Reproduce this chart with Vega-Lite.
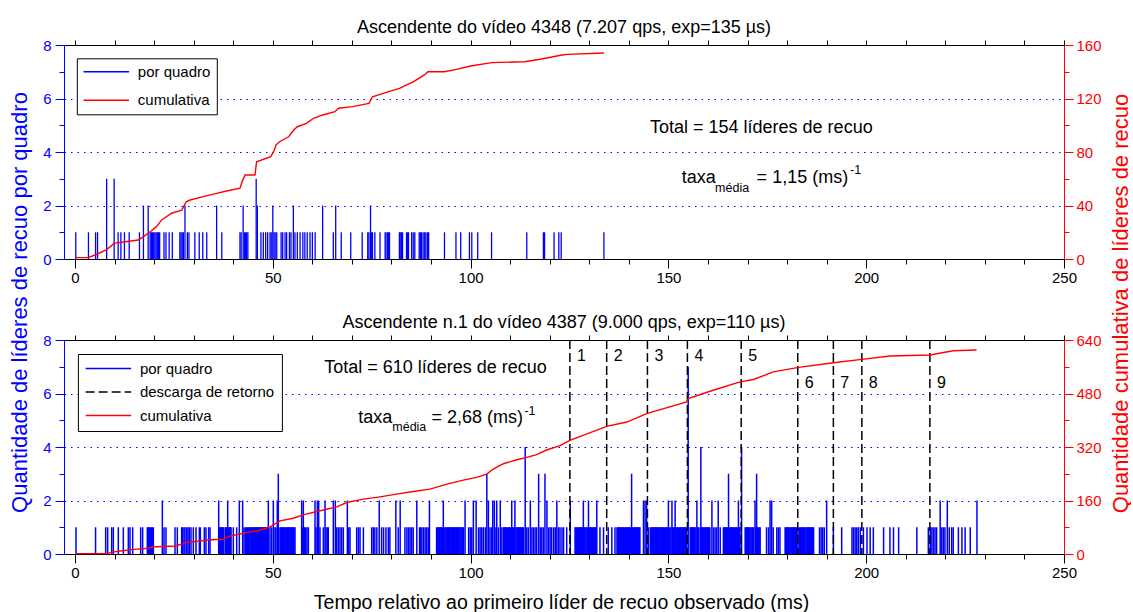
{
"$schema":"https://vega.github.io/schema/vega-lite/v6.json",
"background":"white",
"padding":{"left":7,"top":19,"right":0,"bottom":0},
"config":{
 "view":{"stroke":null},
 "font":"Liberation Sans",
 "axis":{"labelFont":"Liberation Sans","titleFont":"Liberation Sans","titleFontWeight":"normal","zindex":1,"tickWidth":1,"domainWidth":1},
 "legend":{"labelFont":"Liberation Sans"},
 "title":{"font":"Liberation Sans","fontWeight":"normal"}
},
"datasets":{
 "top":[{"t":0.2,"n":1},{"t":3.4,"n":1},{"t":5.2,"n":1},{"t":5.7,"n":1},{"t":8.0,"n":3},{"t":9.9,"n":3},{"t":10.9,"n":1},{"t":11.6,"n":1},{"t":12.5,"n":1},{"t":13.7,"n":1},{"t":16.3,"n":1},{"t":17.3,"n":2},{"t":18.5,"n":2},{"t":19.0,"n":1},{"t":19.3,"n":1},{"t":19.6,"n":1},{"t":19.9,"n":1},{"t":20.2,"n":1},{"t":20.5,"n":1},{"t":20.8,"n":1},{"t":21.1,"n":1},{"t":21.4,"n":1},{"t":22.5,"n":1},{"t":23.0,"n":1},{"t":23.8,"n":1},{"t":24.6,"n":1},{"t":26.5,"n":1},{"t":26.8,"n":1},{"t":27.1,"n":1},{"t":27.4,"n":1},{"t":27.8,"n":2},{"t":28.4,"n":1},{"t":28.8,"n":1},{"t":30.3,"n":1},{"t":31.4,"n":1},{"t":32.3,"n":1},{"t":33.3,"n":1},{"t":35.8,"n":2},{"t":37.1,"n":1},{"t":41.7,"n":1},{"t":42.0,"n":1},{"t":42.5,"n":2},{"t":42.8,"n":1},{"t":43.1,"n":1},{"t":43.4,"n":1},{"t":43.7,"n":1},{"t":45.8,"n":3},{"t":46.1,"n":2},{"t":47.0,"n":1},{"t":47.6,"n":1},{"t":48.2,"n":1},{"t":48.7,"n":1},{"t":49.3,"n":1},{"t":49.6,"n":1},{"t":50.0,"n":2},{"t":50.3,"n":1},{"t":50.6,"n":1},{"t":51.0,"n":1},{"t":52.1,"n":1},{"t":52.5,"n":1},{"t":53.1,"n":1},{"t":53.5,"n":1},{"t":54.2,"n":1},{"t":54.6,"n":1},{"t":55.2,"n":2},{"t":55.6,"n":1},{"t":56.2,"n":1},{"t":56.9,"n":1},{"t":57.6,"n":1},{"t":58.1,"n":1},{"t":58.7,"n":1},{"t":59.4,"n":1},{"t":60.0,"n":1},{"t":60.7,"n":1},{"t":62.6,"n":2},{"t":65.3,"n":1},{"t":65.9,"n":2},{"t":67.3,"n":1},{"t":69.7,"n":1},{"t":72.6,"n":1},{"t":74.0,"n":1},{"t":74.3,"n":1},{"t":74.7,"n":2},{"t":75.0,"n":1},{"t":75.2,"n":1},{"t":75.8,"n":1},{"t":77.1,"n":1},{"t":78.4,"n":1},{"t":78.6,"n":1},{"t":79.0,"n":1},{"t":79.2,"n":1},{"t":79.5,"n":1},{"t":82.0,"n":1},{"t":82.2,"n":1},{"t":82.5,"n":1},{"t":82.8,"n":1},{"t":83.8,"n":1},{"t":84.1,"n":1},{"t":84.3,"n":1},{"t":85.1,"n":1},{"t":85.5,"n":1},{"t":85.9,"n":1},{"t":87.0,"n":1},{"t":87.3,"n":1},{"t":87.6,"n":1},{"t":88.0,"n":1},{"t":88.4,"n":1},{"t":88.7,"n":1},{"t":89.1,"n":1},{"t":89.4,"n":1},{"t":93.4,"n":1},{"t":96.3,"n":1},{"t":97.5,"n":1},{"t":99.7,"n":1},{"t":100.3,"n":1},{"t":101.8,"n":1},{"t":105.3,"n":1},{"t":114.2,"n":1},{"t":118.4,"n":1},{"t":118.7,"n":1},{"t":121.1,"n":1},{"t":122.3,"n":1},{"t":122.9,"n":1},{"t":133.7,"n":1}],
 "topCum":[{"t":0.2,"c":1},{"t":3.3,"c":1},{"t":5.1,"c":3},{"t":8,"c":7},{"t":9.9,"c":11.7},{"t":10.9,"c":12.2},{"t":16,"c":14.2},{"t":17.3,"c":16.7},{"t":19,"c":20.4},{"t":20.6,"c":24.2},{"t":21.9,"c":29.2},{"t":24.4,"c":34.2},{"t":27,"c":36.6},{"t":28.1,"c":42.8},{"t":29.1,"c":44.1},{"t":32.4,"c":46.6},{"t":35.8,"c":49.1},{"t":38.3,"c":50.8},{"t":41.7,"c":52.9},{"t":42.4,"c":59},{"t":43,"c":62.8},{"t":45.5,"c":62.8},{"t":45.9,"c":72.7},{"t":49.5,"c":76.5},{"t":50.4,"c":81.5},{"t":50.8,"c":85.2},{"t":51.7,"c":87.7},{"t":54,"c":91.4},{"t":55.3,"c":96.4},{"t":56.2,"c":98.9},{"t":58.5,"c":101.4},{"t":60.3,"c":105.2},{"t":62.6,"c":107.7},{"t":65.7,"c":110.1},{"t":66.6,"c":112.7},{"t":70.2,"c":113.9},{"t":74.3,"c":116.4},{"t":75.2,"c":121.3},{"t":79.3,"c":125.1},{"t":82,"c":127.6},{"t":85.6,"c":132.6},{"t":88.3,"c":137.6},{"t":89.2,"c":140},{"t":93.3,"c":140},{"t":96.4,"c":141.8},{"t":100,"c":144.3},{"t":105.4,"c":146.8},{"t":113.6,"c":147.5},{"t":117.6,"c":149.3},{"t":123.1,"c":152.5},{"t":124.5,"c":153},{"t":133.7,"c":154}],
 "topAnn":[{"k":"main","t":145.35,"v":4.886,"s":"Total = 154 líderes de recuo"},{"k":"main","t":153.4,"v":3.017,"s":"taxa"},{"k":"main","t":172.3,"v":3.017,"s":"= 1,15 (ms)"},{"k":"small","t":161.8,"v":2.643,"s":"média"},{"k":"small","t":195.9,"v":3.32,"s":"-1"}],
 "bot":[{"t":0.25,"n":1},{"t":5.2,"n":1},{"t":7.75,"n":1},{"t":8.26,"n":1},{"t":9.27,"n":1},{"t":9.69,"n":1},{"t":10.95,"n":1},{"t":12.22,"n":1},{"t":13.48,"n":1},{"t":13.9,"n":1},{"t":14.58,"n":1},{"t":16.6,"n":1},{"t":17.1,"n":1},{"t":18.28,"n":1},{"t":18.53,"n":1},{"t":18.79,"n":1},{"t":19.04,"n":1},{"t":19.3,"n":1},{"t":19.55,"n":1},{"t":19.8,"n":1},{"t":22.08,"n":2},{"t":22.5,"n":1},{"t":23.0,"n":1},{"t":25.28,"n":1},{"t":25.87,"n":1},{"t":26.96,"n":1},{"t":27.21,"n":1},{"t":27.55,"n":1},{"t":27.8,"n":1},{"t":28.23,"n":1},{"t":28.57,"n":1},{"t":28.9,"n":1},{"t":29.32,"n":1},{"t":29.91,"n":1},{"t":30.59,"n":1},{"t":31.43,"n":1},{"t":31.68,"n":1},{"t":32.69,"n":1},{"t":33.11,"n":1},{"t":33.79,"n":1},{"t":34.13,"n":1},{"t":36.32,"n":2},{"t":36.66,"n":1},{"t":37.0,"n":1},{"t":37.33,"n":1},{"t":38.0,"n":1},{"t":38.26,"n":1},{"t":38.6,"n":2},{"t":38.93,"n":1},{"t":39.19,"n":1},{"t":39.44,"n":1},{"t":40.02,"n":1},{"t":40.87,"n":1},{"t":41.54,"n":2},{"t":42.38,"n":2},{"t":42.72,"n":1},{"t":43.06,"n":1},{"t":43.39,"n":1},{"t":43.82,"n":1},{"t":44.24,"n":1},{"t":44.66,"n":1},{"t":45.08,"n":1},{"t":45.42,"n":1},{"t":45.75,"n":1},{"t":46.09,"n":1},{"t":46.43,"n":1},{"t":46.76,"n":1},{"t":47.1,"n":1},{"t":47.44,"n":1},{"t":47.77,"n":1},{"t":48.11,"n":1},{"t":48.45,"n":1},{"t":48.87,"n":2},{"t":49.29,"n":1},{"t":49.71,"n":1},{"t":50.13,"n":2},{"t":50.55,"n":1},{"t":50.8,"n":1},{"t":51.14,"n":2},{"t":51.39,"n":3},{"t":51.81,"n":1},{"t":52.24,"n":1},{"t":52.66,"n":1},{"t":53.08,"n":1},{"t":53.5,"n":1},{"t":53.92,"n":1},{"t":54.34,"n":1},{"t":54.76,"n":1},{"t":55.19,"n":1},{"t":55.61,"n":1},{"t":57.3,"n":2},{"t":57.55,"n":1},{"t":57.72,"n":2},{"t":57.97,"n":1},{"t":58.31,"n":1},{"t":58.65,"n":1},{"t":58.99,"n":1},{"t":60.67,"n":2},{"t":60.92,"n":1},{"t":61.26,"n":2},{"t":61.6,"n":2},{"t":61.93,"n":1},{"t":62.78,"n":1},{"t":63.2,"n":2},{"t":63.45,"n":1},{"t":63.79,"n":1},{"t":64.03,"n":1},{"t":65.3,"n":2},{"t":65.81,"n":2},{"t":66.14,"n":1},{"t":66.56,"n":1},{"t":66.99,"n":1},{"t":67.41,"n":1},{"t":67.83,"n":1},{"t":68.84,"n":2},{"t":69.18,"n":1},{"t":69.52,"n":1},{"t":71.2,"n":1},{"t":71.63,"n":1},{"t":72.05,"n":1},{"t":72.9,"n":1},{"t":75.0,"n":1},{"t":75.4,"n":1},{"t":75.8,"n":1},{"t":76.3,"n":1},{"t":76.9,"n":2},{"t":77.5,"n":1},{"t":78.0,"n":1},{"t":78.6,"n":1},{"t":79.2,"n":1},{"t":79.6,"n":1},{"t":81.1,"n":2},{"t":81.7,"n":1},{"t":82.2,"n":2},{"t":83.4,"n":1},{"t":83.9,"n":1},{"t":84.3,"n":1},{"t":84.7,"n":1},{"t":85.1,"n":1},{"t":85.5,"n":1},{"t":86.4,"n":2},{"t":87.1,"n":1},{"t":87.4,"n":1},{"t":87.7,"n":1},{"t":88.1,"n":1},{"t":88.5,"n":1},{"t":88.9,"n":1},{"t":89.3,"n":1},{"t":89.6,"n":2},{"t":91.4,"n":1},{"t":91.9,"n":1},{"t":92.3,"n":1},{"t":92.7,"n":1},{"t":93.1,"n":2},{"t":93.5,"n":1},{"t":94.0,"n":1},{"t":94.4,"n":1},{"t":94.8,"n":1},{"t":95.2,"n":1},{"t":95.7,"n":1},{"t":96.1,"n":1},{"t":96.5,"n":1},{"t":96.9,"n":1},{"t":97.3,"n":1},{"t":97.8,"n":1},{"t":98.2,"n":1},{"t":98.6,"n":2},{"t":99.5,"n":1},{"t":99.9,"n":1},{"t":100.3,"n":1},{"t":100.7,"n":2},{"t":101.4,"n":2},{"t":102.0,"n":1},{"t":102.4,"n":1},{"t":102.8,"n":1},{"t":103.2,"n":1},{"t":103.7,"n":1},{"t":104.1,"n":3},{"t":104.5,"n":2},{"t":104.9,"n":1},{"t":105.3,"n":1},{"t":105.6,"n":2},{"t":106.0,"n":2},{"t":106.4,"n":1},{"t":106.6,"n":2},{"t":107.0,"n":1},{"t":107.5,"n":2},{"t":107.9,"n":1},{"t":108.3,"n":1},{"t":108.7,"n":1},{"t":109.1,"n":1},{"t":109.6,"n":1},{"t":110.0,"n":1},{"t":110.4,"n":2},{"t":110.8,"n":1},{"t":111.2,"n":2},{"t":111.7,"n":1},{"t":112.1,"n":1},{"t":112.5,"n":1},{"t":112.9,"n":1},{"t":113.4,"n":1},{"t":113.8,"n":4},{"t":114.2,"n":1},{"t":114.6,"n":1},{"t":115.1,"n":2},{"t":115.5,"n":1},{"t":115.9,"n":1},{"t":116.3,"n":1},{"t":116.7,"n":1},{"t":117.2,"n":3},{"t":117.6,"n":1},{"t":118.0,"n":1},{"t":118.4,"n":1},{"t":118.8,"n":3},{"t":119.3,"n":2},{"t":119.7,"n":1},{"t":120.1,"n":1},{"t":120.5,"n":1},{"t":121.0,"n":1},{"t":121.4,"n":1},{"t":121.8,"n":2},{"t":122.2,"n":1},{"t":122.6,"n":1},{"t":123.1,"n":1},{"t":123.5,"n":1},{"t":124.3,"n":1},{"t":125.2,"n":2},{"t":126.4,"n":1},{"t":126.8,"n":1},{"t":127.3,"n":1},{"t":127.7,"n":1},{"t":128.1,"n":1},{"t":128.5,"n":2},{"t":128.9,"n":1},{"t":129.4,"n":1},{"t":129.8,"n":2},{"t":130.2,"n":1},{"t":130.6,"n":1},{"t":131.1,"n":1},{"t":131.5,"n":1},{"t":131.9,"n":2},{"t":132.7,"n":1},{"t":133.6,"n":1},{"t":134.8,"n":1},{"t":135.7,"n":1},{"t":136.5,"n":1},{"t":137.0,"n":1},{"t":137.4,"n":1},{"t":137.8,"n":1},{"t":138.2,"n":1},{"t":138.6,"n":1},{"t":139.1,"n":1},{"t":139.5,"n":1},{"t":139.9,"n":1},{"t":140.3,"n":1},{"t":140.7,"n":3},{"t":141.2,"n":1},{"t":141.6,"n":1},{"t":142.0,"n":1},{"t":142.4,"n":1},{"t":142.8,"n":1},{"t":143.7,"n":2},{"t":144.1,"n":2},{"t":144.5,"n":2},{"t":144.9,"n":1},{"t":145.4,"n":1},{"t":145.8,"n":1},{"t":146.2,"n":1},{"t":146.6,"n":1},{"t":147.0,"n":1},{"t":147.5,"n":1},{"t":147.9,"n":1},{"t":148.3,"n":1},{"t":148.7,"n":1},{"t":149.2,"n":1},{"t":149.6,"n":1},{"t":150.0,"n":2},{"t":150.4,"n":1},{"t":150.9,"n":2},{"t":151.3,"n":1},{"t":151.7,"n":2},{"t":152.1,"n":1},{"t":152.5,"n":1},{"t":153.0,"n":1},{"t":153.4,"n":1},{"t":153.8,"n":1},{"t":154.2,"n":1},{"t":154.6,"n":1},{"t":155.0,"n":7},{"t":155.5,"n":1},{"t":155.9,"n":1},{"t":156.3,"n":1},{"t":156.7,"n":1},{"t":157.2,"n":2},{"t":157.6,"n":1},{"t":158.0,"n":1},{"t":158.2,"n":4},{"t":158.4,"n":1},{"t":158.8,"n":1},{"t":159.3,"n":1},{"t":159.7,"n":1},{"t":160.1,"n":1},{"t":160.5,"n":1},{"t":161.0,"n":2},{"t":161.4,"n":1},{"t":161.8,"n":1},{"t":162.2,"n":1},{"t":162.6,"n":2},{"t":163.1,"n":1},{"t":163.9,"n":1},{"t":164.3,"n":1},{"t":164.7,"n":1},{"t":165.2,"n":3},{"t":165.6,"n":1},{"t":166.0,"n":1},{"t":166.4,"n":1},{"t":166.9,"n":1},{"t":167.3,"n":1},{"t":167.7,"n":2},{"t":168.1,"n":1},{"t":168.5,"n":4},{"t":169.4,"n":1},{"t":169.8,"n":1},{"t":170.2,"n":1},{"t":170.6,"n":1},{"t":171.1,"n":1},{"t":171.5,"n":1},{"t":171.9,"n":2},{"t":172.3,"n":3},{"t":172.7,"n":1},{"t":173.2,"n":1},{"t":174.8,"n":1},{"t":175.3,"n":1},{"t":175.7,"n":2},{"t":176.1,"n":2},{"t":176.5,"n":1},{"t":177.4,"n":1},{"t":177.8,"n":1},{"t":178.2,"n":1},{"t":179.5,"n":1},{"t":179.9,"n":1},{"t":180.3,"n":1},{"t":180.7,"n":1},{"t":181.2,"n":1},{"t":181.6,"n":1},{"t":182.0,"n":1},{"t":182.4,"n":1},{"t":183.1,"n":1},{"t":183.7,"n":1},{"t":184.1,"n":1},{"t":184.5,"n":1},{"t":185.0,"n":1},{"t":185.4,"n":1},{"t":185.8,"n":1},{"t":186.2,"n":1},{"t":186.7,"n":1},{"t":188.2,"n":1},{"t":188.6,"n":1},{"t":189.0,"n":1},{"t":189.4,"n":1},{"t":190.0,"n":2},{"t":191.7,"n":1},{"t":193.8,"n":1},{"t":196.4,"n":1},{"t":196.8,"n":1},{"t":197.2,"n":1},{"t":197.6,"n":1},{"t":198.0,"n":1},{"t":198.5,"n":1},{"t":199.3,"n":1},{"t":200.2,"n":1},{"t":201.0,"n":1},{"t":201.8,"n":1},{"t":204.4,"n":1},{"t":206.0,"n":1},{"t":206.9,"n":1},{"t":208.2,"n":1},{"t":212.8,"n":1},{"t":215.7,"n":1},{"t":216.2,"n":1},{"t":216.6,"n":1},{"t":217.0,"n":1},{"t":217.4,"n":1},{"t":217.8,"n":1},{"t":218.7,"n":2},{"t":219.1,"n":1},{"t":219.5,"n":1},{"t":219.9,"n":1},{"t":220.5,"n":2},{"t":221.0,"n":1},{"t":221.6,"n":1},{"t":222.0,"n":1},{"t":223.3,"n":1},{"t":224.2,"n":1},{"t":225.0,"n":1},{"t":226.3,"n":1},{"t":228.0,"n":2},
 {"t":36.5,"n":1},{"t":36.83,"n":1},{"t":37.17,"n":1},{"t":37.6,"n":1},{"t":38.13,"n":1},{"t":38.43,"n":1},{"t":38.77,"n":1},{"t":39.06,"n":1},{"t":39.3,"n":1},
 {"t":43.6,"n":1},{"t":44.0,"n":1},{"t":44.45,"n":1},{"t":44.87,"n":1},{"t":45.25,"n":1},{"t":45.6,"n":1},{"t":45.92,"n":1},{"t":46.26,"n":1},{"t":46.6,"n":1},{"t":46.93,"n":1},{"t":47.27,"n":1},{"t":47.6,"n":1},{"t":47.94,"n":1},{"t":48.28,"n":1},{"t":48.66,"n":1},
 {"t":52.03,"n":1},{"t":52.45,"n":1},{"t":52.87,"n":1},{"t":53.29,"n":1},{"t":53.71,"n":1},{"t":54.13,"n":1},{"t":54.55,"n":1},{"t":54.97,"n":1},{"t":55.4,"n":1},
 {"t":91.65,"n":1},{"t":92.1,"n":1},{"t":92.5,"n":1},{"t":92.9,"n":1},{"t":93.3,"n":1},{"t":93.75,"n":1},{"t":94.2,"n":1},{"t":94.6,"n":1},{"t":95.0,"n":1},{"t":95.45,"n":1},{"t":95.9,"n":1},{"t":96.3,"n":1},{"t":96.7,"n":1},{"t":97.1,"n":1},{"t":97.55,"n":1},{"t":98.0,"n":1},
 {"t":108.5,"n":1},{"t":108.9,"n":1},{"t":109.35,"n":1},{"t":109.8,"n":1},{"t":110.2,"n":1},{"t":110.6,"n":1},{"t":111.0,"n":1},{"t":111.45,"n":1},{"t":111.9,"n":1},{"t":112.3,"n":1},{"t":112.7,"n":1},{"t":113.15,"n":1},
 {"t":126.6,"n":1},{"t":127.05,"n":1},{"t":127.5,"n":1},{"t":127.9,"n":1},{"t":128.3,"n":1},{"t":128.7,"n":1},{"t":129.15,"n":1},{"t":129.6,"n":1},{"t":130.0,"n":1},{"t":130.4,"n":1},{"t":130.85,"n":1},{"t":131.3,"n":1},{"t":131.7,"n":1},
 {"t":137.2,"n":1},{"t":137.6,"n":1},{"t":138.0,"n":1},{"t":138.4,"n":1},{"t":138.85,"n":1},{"t":139.3,"n":1},{"t":139.7,"n":1},{"t":140.1,"n":1},{"t":140.5,"n":1},{"t":140.95,"n":1},{"t":141.4,"n":1},{"t":141.8,"n":1},{"t":142.2,"n":1},{"t":142.6,"n":1},
 {"t":145.6,"n":1},{"t":146.0,"n":1},{"t":146.4,"n":1},{"t":146.8,"n":1},{"t":147.25,"n":1},{"t":147.7,"n":1},{"t":148.1,"n":1},{"t":148.5,"n":1},{"t":148.95,"n":1},{"t":149.4,"n":1},{"t":149.8,"n":1},{"t":150.2,"n":1},{"t":150.65,"n":1},{"t":151.1,"n":1},{"t":151.5,"n":1},{"t":151.9,"n":1},{"t":152.3,"n":1},{"t":152.75,"n":1},{"t":153.2,"n":1},{"t":153.6,"n":1},{"t":154.0,"n":1},{"t":154.4,"n":1},
 {"t":155.7,"n":1},{"t":156.1,"n":1},{"t":156.5,"n":1},{"t":156.95,"n":1},{"t":157.4,"n":1},{"t":158.6,"n":1},{"t":159.05,"n":1},{"t":159.5,"n":1},{"t":159.9,"n":1},{"t":160.3,"n":1},
 {"t":164.1,"n":1},{"t":164.5,"n":1},{"t":164.95,"n":1},{"t":165.4,"n":1},{"t":165.8,"n":1},{"t":166.2,"n":1},{"t":166.65,"n":1},{"t":167.1,"n":1},{"t":167.5,"n":1},{"t":167.9,"n":1},
 {"t":169.6,"n":1},{"t":170.0,"n":1},{"t":170.4,"n":1},{"t":170.85,"n":1},{"t":171.3,"n":1},{"t":172.1,"n":1},{"t":172.5,"n":1},{"t":172.95,"n":1},
 {"t":179.7,"n":1},{"t":180.1,"n":1},{"t":180.5,"n":1},{"t":180.95,"n":1},{"t":181.4,"n":1},{"t":181.8,"n":1},{"t":182.2,"n":1},{"t":182.75,"n":1},{"t":183.4,"n":1},{"t":183.9,"n":1},{"t":184.3,"n":1},{"t":184.75,"n":1},{"t":185.2,"n":1},{"t":185.6,"n":1},{"t":186.0,"n":1},{"t":186.45,"n":1}],
 "botCum":[{"t":0.25,"c":1},{"t":8.4,"c":1},{"t":8.8,"c":4},{"t":11.4,"c":9},{"t":14.3,"c":13},{"t":18.5,"c":17},{"t":19.4,"c":21},{"t":25.3,"c":24},{"t":28.2,"c":34},{"t":31.6,"c":39},{"t":33.3,"c":42},{"t":37.5,"c":44},{"t":39.2,"c":54},{"t":43.4,"c":64},{"t":46.8,"c":71},{"t":49.3,"c":81},{"t":51.8,"c":99},{"t":55.2,"c":107},{"t":57.7,"c":117},{"t":61.1,"c":127},{"t":63.6,"c":134},{"t":66.2,"c":141},{"t":68.7,"c":154},{"t":72.9,"c":164},{"t":77.1,"c":171},{"t":81.3,"c":179},{"t":85.5,"c":187},{"t":89.7,"c":194},{"t":94,"c":209},{"t":98.2,"c":221},{"t":101.5,"c":229},{"t":104.1,"c":239},{"t":105.7,"c":254},{"t":108.3,"c":270},{"t":111.7,"c":282},{"t":114.2,"c":289},{"t":116.7,"c":297},{"t":119.2,"c":311},{"t":122.6,"c":324},{"t":125.1,"c":340},{"t":134.4,"c":381.6},{"t":139.5,"c":394.6},{"t":144.5,"c":419.8},{"t":154.6,"c":454.7},{"t":155,"c":465},{"t":161.3,"c":489.8},{"t":168.1,"c":514.8},{"t":171.5,"c":522},{"t":176.5,"c":544.8},{"t":182.9,"c":558},{"t":191.7,"c":571.9},{"t":198.9,"c":582},{"t":206,"c":592},{"t":216.1,"c":595},{"t":222,"c":608},{"t":227.9,"c":610}],
 "botAnn":[{"k":"main","t":63.0,"v":6.937,"s":"Total = 610 líderes de recuo"},{"k":"main","t":71.6,"v":5.097,"s":"taxa"},{"k":"main","t":90.1,"v":5.097,"s":"= 2,68 (ms)"},{"k":"small","t":80.2,"v":4.744,"s":"média"},{"k":"small","t":113.6,"v":5.35,"s":"-1"}],
 "strokes":[{"t":125.1,"lab":"1","ly":7.41},{"t":134.4,"lab":"2","ly":7.41},{"t":144.7,"lab":"3","ly":7.41},{"t":154.8,"lab":"4","ly":7.41},{"t":168.4,"lab":"5","ly":7.41},{"t":182.7,"lab":"6","ly":6.38},{"t":191.7,"lab":"7","ly":6.38},{"t":198.9,"lab":"8","ly":6.38},{"t":216.1,"lab":"9","ly":6.38}]
},
"spacing":81,
"bounds":"flush",
"resolve":{"scale":{"color":"independent","strokeDash":"independent"},"legend":{"color":"independent","strokeDash":"independent"}},
"vconcat":[
{
 "width":1000,"height":214,
 "title":{"text":"Ascendente do vídeo 4348 (7.207 qps, exp=135 µs)","frame":"group","anchor":"middle","fontSize":18,"fontWeight":"normal","color":"black","baseline":"bottom","offset":-17},
 "resolve":{"scale":{"y":"independent"},"axis":{"x":"independent","y":"independent"}},
 "layer":[
  {"data":{"name":"top"},"mark":{"type":"rule","strokeWidth":1.3},
   "encoding":{
    "x":{"field":"t","type":"quantitative","scale":{"domain":[-2.78,250],"nice":false,"zero":false},"axis":{"orient":"bottom","values":[0,10,20,30,40,50,60,70,80,90,100,110,120,130,140,150,160,170,180,190,200,210,220,230,240,250],"tickSize":5,"labels":false,"domainColor":"black","tickColor":"black","grid":false,"title":null}},
    "y":{"field":"n","type":"quantitative","scale":{"domain":[0,8],"nice":false},"axis":{"orient":"left","values":[0,1,2,3,4,5,6,7,8],"tickSize":5,"labels":false,"domainColor":"#0000ff","tickColor":"#0000ff","grid":false,"title":null}},
    "y2":{"datum":0},
    "color":{"datum":"por quadro","scale":{"domain":["por quadro","cumulativa"],"range":["#0000ff","#ff0000"]},"legend":{"orient":"none","legendX":12.8,"legendY":13.3,"title":null,"symbolType":"M-3.5,0H3.5","symbolSize":169,"symbolStrokeWidth":1.5,"symbolOffset":16,"labelOffset":24,"labelFontSize":15,"labelColor":"black","labelLimit":0,"padding":6,"rowPadding":12.5,"strokeColor":"black","fillColor":"white","cornerRadius":0}}
   }},
  {"data":{"name":"topCum"},"mark":{"type":"line","strokeWidth":1.4},
   "encoding":{
    "x":{"field":"t","type":"quantitative","scale":{"domain":[-2.78,250],"nice":false,"zero":false},"axis":null},
    "y":{"field":"c","type":"quantitative","scale":{"domain":[0,160],"nice":false},"axis":{"orient":"right","values":[0,40,80,120,160],"tickSize":9,"labelColor":"#ff0000","labelFontSize":15,"labelPadding":3,"tickColor":"#ff0000","domainColor":"#ff0000","grid":false,"title":"Quantidade cumulativa de líderes de recuo","titleColor":"#ff0000","titleFontSize":22,"titleAngle":270,"titleAlign":"center","titleBaseline":"middle","titleX":56,"titleY":258}},
    "color":{"datum":"cumulativa","legend":{"orient":"none","legendX":12.8,"legendY":13.3,"title":null,"symbolType":"M-3.5,0H3.5","symbolSize":169,"symbolStrokeWidth":1.5,"symbolOffset":16,"labelOffset":24,"labelFontSize":15,"labelColor":"black","labelLimit":0,"padding":6,"rowPadding":12.5,"strokeColor":"black","fillColor":"white","cornerRadius":0}}
   }},
  {"data":{"name":"topCum"},"mark":{"type":"line","strokeOpacity":0},
   "encoding":{
    "x":{"field":"t","type":"quantitative","scale":{"domain":[-2.78,250],"nice":false,"zero":false},"axis":null},
    "y":{"field":"c","type":"quantitative","scale":{"domain":[0,160],"nice":false},"axis":{"orient":"right","values":[0,20,40,60,80,100,120,140,160],"tickSize":5,"labels":false,"domain":false,"tickColor":"#ff0000","grid":false,"title":null}}
   }},
  {"data":{"name":"topAnn"},"transform":[{"filter":"datum.k == 'main'"}],
   "mark":{"type":"text","fontSize":18,"align":"left","baseline":"middle","color":"black"},
   "encoding":{
    "x":{"field":"t","type":"quantitative","scale":{"domain":[-2.78,250],"nice":false,"zero":false},"axis":{"orient":"bottom","values":[0,50,100,150,200,250],"tickSize":9,"labelFontSize":15,"labelPadding":2,"labelColor":"black","labelFlush":false,"labelOverlap":false,"domain":false,"tickColor":"black","grid":false,"title":null}},
    "y":{"field":"v","type":"quantitative","scale":{"domain":[0,8],"nice":false},"axis":{"orient":"left","values":[0,2,4,6,8],"tickSize":9,"labelColor":"#0000ff","labelFontSize":15,"labelPadding":4,"tickColor":"#0000ff","domain":false,"grid":false,"title":"Quantidade de líderes de recuo por quadro","titleColor":"#0000ff","titleFontSize":22,"titleAngle":270,"titleAlign":"center","titleBaseline":"middle","titleX":-45,"titleY":257}},
    "text":{"field":"s"}
   }},
  {"data":{"name":"topAnn"},"transform":[{"filter":"datum.k == 'small'"}],
   "mark":{"type":"text","fontSize":12.5,"align":"left","baseline":"middle","color":"black"},
   "encoding":{
    "x":{"field":"t","type":"quantitative","scale":{"domain":[-2.78,250],"nice":false,"zero":false},"axis":{"orient":"top","values":[0,10,20,30,40,50,60,70,80,90,100,110,120,130,140,150,160,170,180,190,200,210,220,230,240,250],"tickSize":5,"labels":false,"domainColor":"black","tickColor":"black","grid":false,"title":null}},
    "y":{"field":"v","type":"quantitative","scale":{"domain":[0,8],"nice":false},"axis":{"orient":"left","values":[2,4,6],"grid":true,"gridColor":"#0000ff","gridDash":[1.5,5],"gridWidth":1,"ticks":false,"labels":false,"domain":false,"title":null}},
    "text":{"field":"s"}
   }}
 ]
},
{
 "width":1000,"height":214,
 "title":{"text":"Ascendente n.1 do vídeo 4387 (9.000 qps, exp=110 µs)","frame":"group","anchor":"middle","fontSize":18,"fontWeight":"normal","color":"black","baseline":"bottom","offset":-17},
 "resolve":{"scale":{"y":"independent"},"axis":{"x":"independent","y":"independent"}},
 "layer":[
  {"data":{"name":"bot"},"mark":{"type":"rule","strokeWidth":1.5},
   "encoding":{
    "x":{"field":"t","type":"quantitative","scale":{"domain":[-2.78,250],"nice":false,"zero":false},"axis":{"orient":"bottom","values":[0,10,20,30,40,50,60,70,80,90,100,110,120,130,140,150,160,170,180,190,200,210,220,230,240,250],"tickSize":5,"labels":false,"domainColor":"black","tickColor":"black","grid":false,"title":null}},
    "y":{"field":"n","type":"quantitative","scale":{"domain":[0,8],"nice":false},"axis":{"orient":"left","values":[0,1,2,3,4,5,6,7,8],"tickSize":5,"labels":false,"domainColor":"#0000ff","tickColor":"#0000ff","grid":false,"title":null}},
    "y2":{"datum":0},
    "color":{"datum":"por quadro","scale":{"domain":["por quadro","descarga de retorno","cumulativa"],"range":["#0000ff","#000000","#ff0000"]},"legend":{"orient":"none","legendX":13.9,"legendY":14,"title":null,"symbolType":"M-3.5,0H3.5","symbolSize":169,"symbolStrokeWidth":1.5,"symbolOffset":16,"labelOffset":24,"labelFontSize":15,"labelColor":"black","labelLimit":0,"padding":7,"rowPadding":7.5,"strokeColor":"black","fillColor":"white","cornerRadius":0}}
   }},
  {"data":{"name":"strokes"},"mark":{"type":"rule","strokeWidth":1.5},
   "encoding":{
    "x":{"field":"t","type":"quantitative","scale":{"domain":[-2.78,250],"nice":false,"zero":false},"axis":null},
    "color":{"datum":"descarga de retorno","legend":{"orient":"none","legendX":13.9,"legendY":14,"title":null,"symbolType":"M-3.5,0H3.5","symbolSize":169,"symbolStrokeWidth":1.5,"symbolOffset":16,"labelOffset":24,"labelFontSize":15,"labelColor":"black","labelLimit":0,"padding":7,"rowPadding":7.5,"strokeColor":"black","fillColor":"white","cornerRadius":0}},
    "strokeDash":{"datum":"descarga de retorno","scale":{"domain":["por quadro","descarga de retorno","cumulativa"],"range":[[1,0],[9,4],[1,0]]},"legend":{"orient":"none","legendX":13.9,"legendY":14,"title":null,"symbolType":"M-3.5,0H3.5","symbolSize":169,"symbolStrokeWidth":1.5,"symbolOffset":16,"labelOffset":24,"labelFontSize":15,"labelColor":"black","labelLimit":0,"padding":7,"rowPadding":7.5,"strokeColor":"black","fillColor":"white","cornerRadius":0}}
   }},
  {"data":{"name":"botCum"},"mark":{"type":"line","strokeWidth":1.4},
   "encoding":{
    "x":{"field":"t","type":"quantitative","scale":{"domain":[-2.78,250],"nice":false,"zero":false},"axis":null},
    "y":{"field":"c","type":"quantitative","scale":{"domain":[0,640],"nice":false},"axis":{"orient":"right","values":[0,160,320,480,640],"tickSize":9,"labelColor":"#ff0000","labelFontSize":15,"labelPadding":3,"tickColor":"#ff0000","domainColor":"#ff0000","grid":false,"title":null}},
    "color":{"datum":"cumulativa","legend":{"orient":"none","legendX":13.9,"legendY":14,"title":null,"symbolType":"M-3.5,0H3.5","symbolSize":169,"symbolStrokeWidth":1.5,"symbolOffset":16,"labelOffset":24,"labelFontSize":15,"labelColor":"black","labelLimit":0,"padding":7,"rowPadding":7.5,"strokeColor":"black","fillColor":"white","cornerRadius":0}}
   }},
  {"data":{"name":"botCum"},"mark":{"type":"line","strokeOpacity":0},
   "encoding":{
    "x":{"field":"t","type":"quantitative","scale":{"domain":[-2.78,250],"nice":false,"zero":false},"axis":null},
    "y":{"field":"c","type":"quantitative","scale":{"domain":[0,640],"nice":false},"axis":{"orient":"right","values":[0,80,160,240,320,400,480,560,640],"tickSize":5,"labels":false,"domain":false,"tickColor":"#ff0000","grid":false,"title":null}}
   }},
  {"data":{"name":"strokes"},"mark":{"type":"text","fontSize":16,"align":"left","baseline":"middle","dx":7,"color":"black"},
   "encoding":{
    "x":{"field":"t","type":"quantitative","scale":{"domain":[-2.78,250],"nice":false,"zero":false},"axis":null},
    "y":{"field":"ly","type":"quantitative","scale":{"domain":[0,8],"nice":false},"axis":null},
    "text":{"field":"lab"}
   }},
  {"data":{"name":"botAnn"},"transform":[{"filter":"datum.k == 'main'"}],
   "mark":{"type":"text","fontSize":18,"align":"left","baseline":"middle","color":"black"},
   "encoding":{
    "x":{"field":"t","type":"quantitative","scale":{"domain":[-2.78,250],"nice":false,"zero":false},"axis":{"orient":"bottom","values":[0,50,100,150,200,250],"tickSize":9,"labelFontSize":15,"labelPadding":2,"labelColor":"black","labelFlush":false,"labelOverlap":false,"domain":false,"tickColor":"black","grid":false,"title":"Tempo relativo ao primeiro líder de recuo observado (ms)","titleFontSize":19.5,"titleColor":"black","titleBaseline":"middle","titleX":497,"titleY":48}},
    "y":{"field":"v","type":"quantitative","scale":{"domain":[0,8],"nice":false},"axis":{"orient":"left","values":[0,2,4,6,8],"tickSize":9,"labelColor":"#0000ff","labelFontSize":15,"labelPadding":4,"tickColor":"#0000ff","domain":false,"grid":false,"title":null}},
    "text":{"field":"s"}
   }},
  {"data":{"name":"botAnn"},"transform":[{"filter":"datum.k == 'small'"}],
   "mark":{"type":"text","fontSize":12.5,"align":"left","baseline":"middle","color":"black"},
   "encoding":{
    "x":{"field":"t","type":"quantitative","scale":{"domain":[-2.78,250],"nice":false,"zero":false},"axis":{"orient":"top","values":[0,10,20,30,40,50,60,70,80,90,100,110,120,130,140,150,160,170,180,190,200,210,220,230,240,250],"tickSize":5,"labels":false,"domainColor":"black","tickColor":"black","grid":false,"title":null}},
    "y":{"field":"v","type":"quantitative","scale":{"domain":[0,8],"nice":false},"axis":{"orient":"left","values":[2,4,6],"grid":true,"gridColor":"#0000ff","gridDash":[1.5,5],"gridWidth":1,"ticks":false,"labels":false,"domain":false,"title":null}},
    "text":{"field":"s"}
   }}
 ]
}
]
}
